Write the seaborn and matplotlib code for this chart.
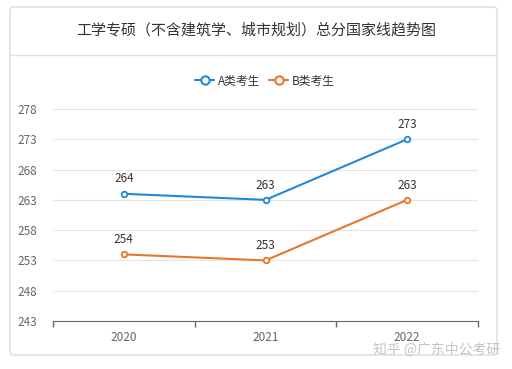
import pandas as pd
import seaborn as sns
import matplotlib.pyplot as plt
from matplotlib.patches import FancyBboxPatch
from matplotlib.lines import Line2D

# data
years = ["2020", "2021", "2022"]
a_scores = [264, 263, 273]
b_scores = [254, 253, 263]
series_names = ["A类考生", "B类考生"]
y_ticks = [243, 248, 253, 258, 263, 268, 273, 278]

df = pd.DataFrame({
    "year": years * 2,
    "pos": [0, 1, 2] * 2,
    "score": a_scores + b_scores,
    "group": [series_names[0]] * 3 + [series_names[1]] * 3,
})

sns.set_style("white")
plt.rcParams["font.family"] = ["Noto Sans CJK SC", "DejaVu Sans"]
colors = {"A类考生": "#1f8ad6", "B类考生": "#e8762b"}

fig = plt.figure(figsize=(5.12, 3.69), dpi=100)

# card background (kept behind the axes)
card = FancyBboxPatch((10 / 512, 1 - 355 / 369), 487 / 512, 348 / 369,
                      boxstyle="round,pad=0,rounding_size=0.008",
                      transform=fig.transFigure, facecolor="white",
                      edgecolor="#dcdcdc", linewidth=1, zorder=-10)
fig.patches.append(card)
fig.add_artist(Line2D([10 / 512, 497 / 512], [1 - 55 / 369, 1 - 55 / 369],
                      transform=fig.transFigure, color="#e0e0e0", lw=1))
fig.text(0.5, 1 - 30 / 369, "工学专硕（不含建筑学、城市规划）总分国家线趋势图",
         ha="center", va="center", fontsize=10.8, color="#333333")

ax = fig.add_axes([53 / 512, 1 - 321 / 369, 425 / 512, 212 / 369])
ax.set_zorder(5)
for name in series_names:
    sns.lineplot(data=df[df["group"] == name], x="pos", y="score", color=colors[name],
                 marker="o", markersize=4, markerfacecolor="white",
                 markeredgecolor=colors[name], markeredgewidth=1.3,
                 linewidth=1.5, ax=ax)

for name, vals in zip(series_names, [a_scores, b_scores]):
    for i, v in enumerate(vals):
        ax.annotate(str(v), (i, v), xytext=(0, 6), textcoords="offset points",
                    ha="center", va="bottom", fontsize=8.5, color="#333333")

ax.set_xlim(-0.5, 2.5)
ax.set_ylim(243, 278)
ax.set_yticks(y_ticks)
ax.set_xticks([0, 1, 2])
ax.set_xticklabels(years)
ax.set_xticks([-0.5, 0.5, 1.5, 2.5], minor=True)
ax.tick_params(axis="x", which="major", bottom=False, pad=4, labelsize=8.5, labelcolor="#666666")
ax.tick_params(axis="x", which="minor", bottom=True, length=4, width=1,
               direction="out", color="#666666")
ax.tick_params(axis="y", left=False, pad=8, labelsize=8.5, labelcolor="#666666")
ax.grid(axis="y", color="#e6e6e6", linewidth=0.8)
for s in ["top", "right", "left"]:
    ax.spines[s].set_visible(False)
ax.spines["bottom"].set_color("#666666")
ax.set_xlabel("")
ax.set_ylabel("")
ax.set_facecolor("none")

# legend
handles = [Line2D([], [], color=colors[n], marker="o", markersize=6,
                  markerfacecolor="white", markeredgewidth=1.5, lw=1.5)
           for n in series_names]
fig.legend(handles, series_names, loc="center", bbox_to_anchor=(265 / 512, 1 - 81 / 369),
           ncol=2, frameon=False, fontsize=8.5, handlelength=1.6, columnspacing=0.8,
           handletextpad=0.3, labelcolor="#333333")

fig.text(500 / 512, 1 - 350 / 369, "知乎 @广东中公考研", ha="right", va="center",
         fontsize=10, color="#c4c4c4", zorder=10)

fig.savefig("out.png", dpi=100)
